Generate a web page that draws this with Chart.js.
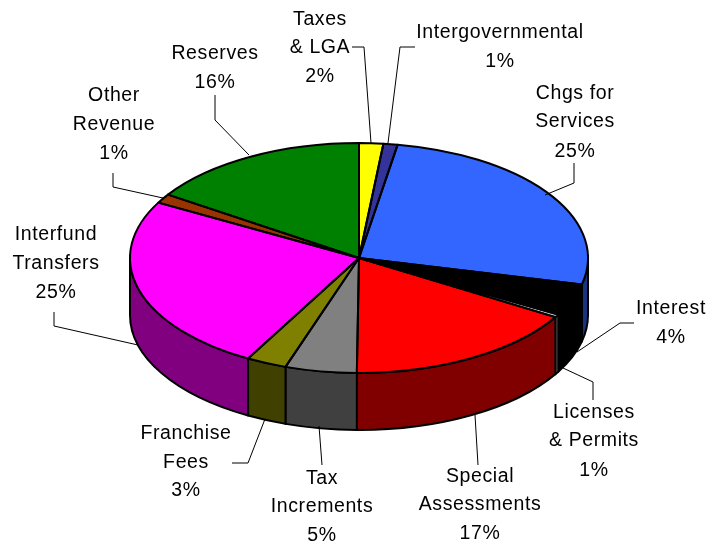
<!DOCTYPE html>
<html>
<head>
<meta charset="utf-8">
<script src="https://cdn.jsdelivr.net/npm/chart.js@4/dist/chart.umd.min.js"></script>
<style>
  html, body { margin: 0; padding: 0; background: #fff; }
  #wrap { width: 706px; height: 545px; }
</style>
</head>
<body>
<div id="wrap"><canvas id="chart-pie"></canvas></div>
<script>
const categories = ['Taxes & LGA', 'Intergovernmental', 'Chgs for Services', 'Interest', 'Licenses & Permits',
  'Special Assessments', 'Tax Increments', 'Franchise Fees', 'Interfund Transfers', 'Other Revenue', 'Reserves'];
// slice sizes as measured on the picture, the printed percents are rounded differently
const shares = [1.7, 1.0, 26.0, 4.5, 0.4, 16.55, 5.05, 2.85, 24.95, 1.3, 15.7];
const percents = ['2%', '1%', '25%', '4%', '1%', '17%', '5%', '3%', '25%', '1%', '16%'];
const topColors = ['#FFFF00', '#333399', '#3366FF', '#000000', '#C0C0C0', '#FF0000', '#808080', '#808000', '#FF00FF', '#993300', '#008000'];
const sideColors = ['#808000', '#1A1A4D', '#1A3380', '#000000', '#808080', '#800000', '#404040', '#404000', '#800080', '#4D1A00', '#004000'];

// label layout: text lines per category, centre x, middle y of each line
const labelLines = [
  ['Taxes', '& LGA'], ['Intergovernmental'], ['Chgs for', 'Services'], ['Interest'], ['Licenses', '& Permits'],
  ['Special', 'Assessments'], ['Tax', 'Increments'], ['Franchise', 'Fees'], ['Interfund', 'Transfers'], ['Other', 'Revenue'], ['Reserves']
];
const labelX = [320, 500, 575, 671, 594, 480, 322, 186, 56, 114, 215];
const labelY = [
  [20, 48, 77], [33, 62], [94, 122, 152], [309, 338], [413, 441, 471],
  [477, 505, 534], [479, 507, 536], [434, 463, 491], [235, 264, 293], [96, 125, 154], [54, 83]
];
const leaderLines = [
  [[352, 47], [364, 47], [371, 143]],
  [[415, 47], [400, 47], [388, 143]],
  [[574, 163], [574, 183], [545, 195]],
  [[634, 323], [620, 323], [577, 352]],
  [[593, 400], [593, 382], [563, 368]],
  [[478, 465], [475, 415]],
  [[322, 465], [319, 426]],
  [[232, 463], [248, 463], [265, 419]],
  [[54, 312], [54, 326], [138, 345]],
  [[113, 173], [113, 187], [163, 198]],
  [[215, 95], [215, 120], [249, 155]]
];

const squash = 0.502;
const depth = 57;

function arcProps(arc) {
  return arc.getProps(['x', 'y', 'startAngle', 'endAngle', 'outerRadius'], true);
}

const pie3d = {
  id: 'pie3d',
  beforeDatasetDraw(chart, args) {
    const ctx = chart.ctx;
    const arcs = args.meta.data;
    const { x, y, outerRadius: r } = arcProps(arcs[0]);

    // side wall, only the front half of the ellipse shows
    ctx.save();
    ctx.lineWidth = 2;
    ctx.strokeStyle = '#000';
    ctx.lineJoin = 'round';
    arcs.forEach((arc, i) => {
      const p = arcProps(arc);
      const a = Math.max(p.startAngle, 0);
      const b = Math.min(p.endAngle, Math.PI);
      if (b <= a) return;
      ctx.beginPath();
      ctx.ellipse(x, y, r, r * squash, 0, a, b);
      ctx.ellipse(x, y + depth, r, r * squash, 0, b, a, true);
      ctx.closePath();
      ctx.fillStyle = sideColors[i];
      ctx.fill();
      ctx.stroke();
    });
    ctx.restore();

    ctx.save();
    ctx.translate(x, y);
    ctx.scale(1, squash);
    ctx.translate(-x, -y);
  },
  afterDatasetDraw(chart, args) {
    const ctx = chart.ctx;
    ctx.restore();

    // outlines after the transform is gone, so the line keeps an even width
    ctx.save();
    ctx.lineWidth = 2;
    ctx.strokeStyle = '#000';
    ctx.lineJoin = 'round';
    args.meta.data.forEach(arc => {
      const p = arcProps(arc);
      ctx.beginPath();
      ctx.moveTo(p.x, p.y);
      ctx.ellipse(p.x, p.y, p.outerRadius, p.outerRadius * squash, 0, p.startAngle, p.endAngle);
      ctx.closePath();
      ctx.stroke();
    });
    ctx.restore();
  },
  afterDraw(chart) {
    const ctx = chart.ctx;
    ctx.save();
    ctx.strokeStyle = '#000';
    ctx.lineWidth = 1;
    leaderLines.forEach(pts => {
      ctx.beginPath();
      pts.forEach((pt, i) => i ? ctx.lineTo(pt[0], pt[1]) : ctx.moveTo(pt[0], pt[1]));
      ctx.stroke();
    });
    ctx.fillStyle = '#000';
    ctx.font = '19.5px "Liberation Sans", Arial, sans-serif';
    ctx.letterSpacing = '0.6px';
    ctx.textAlign = 'center';
    ctx.textBaseline = 'middle';
    categories.forEach((c, i) => {
      const lines = labelLines[i].concat(percents[i]);
      lines.forEach((t, j) => ctx.fillText(t, labelX[i], labelY[i][j]));
    });
    ctx.restore();
  }
};

new Chart(document.getElementById('chart-pie').getContext('2d'), {
  type: 'pie',
  data: {
    labels: categories,
    datasets: [{
      data: shares,
      backgroundColor: topColors,
      borderWidth: 0,
      clip: false
    }]
  },
  options: {
    responsive: true,
    maintainAspectRatio: false,
    animation: false,
    radius: 229,
    layout: { padding: { left: 130, right: 118, top: 29, bottom: 58 } },
    plugins: {
      legend: { display: false },
      tooltip: { enabled: false }
    }
  },
  plugins: [pie3d]
});
</script>
</body>
</html>
